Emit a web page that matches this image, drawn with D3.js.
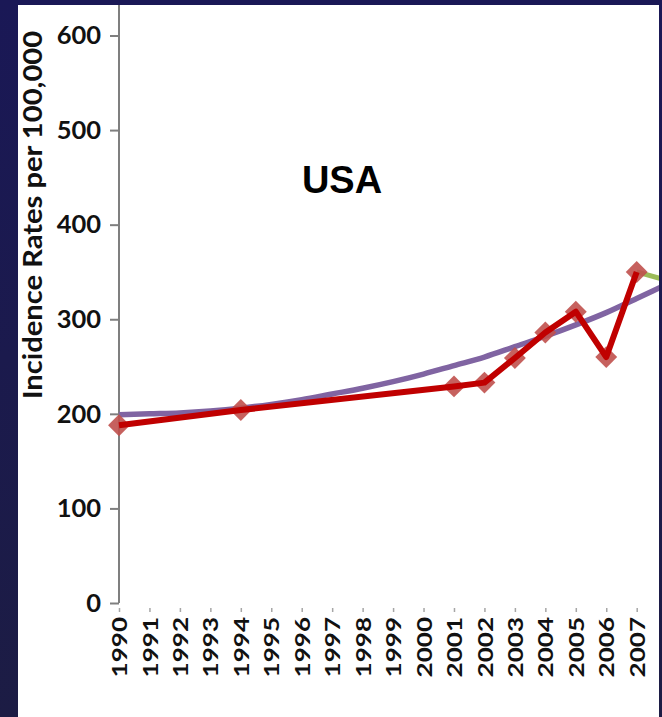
<!DOCTYPE html>
<html>
<head>
<meta charset="utf-8">
<script src="https://cdn.jsdelivr.net/npm/d3@7"></script>
<style>
  html, body { margin: 0; padding: 0; background: #1a1852; }
  svg { display: block; }
</style>
</head>
<body>
<script>
// Cancer incidence in the USA, observed rates with a fitted trend and a projection
const yearLabels = ["1990","1991","1992","1993","1994","1995","1996","1997","1998","1999",
                    "2000","2001","2002","2003","2004","2005","2006","2007","2008"];
const rateTicks = [0, 100, 200, 300, 400, 500, 600];

const observedYears = [1990, 1994, 2001, 2002, 2003, 2004, 2005, 2006, 2007];
const observedRates = [188, 204, 229, 233, 259, 286, 308, 260, 350];

const trendYears = [1990,1991,1992,1993,1994,1995,1996,1997,1998,1999,
                    2000,2001,2002,2003,2004,2005,2006,2007,2008];
const trendRates = [199, 200, 201, 203, 206, 210, 215, 221, 227, 234,
                    242, 251, 260, 271, 282, 294, 307, 322, 337];

const projectionYears = [2007, 2008];
const projectionRates = [350, 341];

const W = 662, H = 717;
const panel = { x: 18, y: 5, w: 641, h: 712 };

const svg = d3.select("body").append("svg")
  .attr("width", W).attr("height", H);

// dark slide background with a faint vertical gradient
const defs = svg.append("defs");
const grad = defs.append("linearGradient").attr("id", "bg").attr("x1", 0).attr("y1", 0).attr("x2", 0).attr("y2", 1);
grad.append("stop").attr("offset", "0%").attr("stop-color", "#1a1856");
grad.append("stop").attr("offset", "100%").attr("stop-color", "#1c1c44");
svg.append("rect").attr("width", W).attr("height", H).attr("fill", "url(#bg)");

// white chart panel
svg.append("rect")
  .attr("x", panel.x).attr("y", panel.y)
  .attr("width", panel.w).attr("height", panel.h)
  .attr("fill", "#ffffff");

defs.append("clipPath").attr("id", "plotClip")
  .append("rect")
  .attr("x", panel.x).attr("y", panel.y)
  .attr("width", panel.w).attr("height", panel.h);

const x = d3.scaleLinear().domain([1990, 2007]).range([119, 636.7]);
const y = d3.scaleLinear().domain([0, 600]).range([603, 35.5]);

const font = "Lato, 'Open Sans', sans-serif";

// y axis
const yAxis = svg.append("g")
  .attr("transform", `translate(${x(1990)},0)`)
  .call(d3.axisLeft(y).tickValues(rateTicks).tickSize(9).tickPadding(9).tickFormat(d3.format("d")));
yAxis.select(".domain").remove();
yAxis.append("line")
  .attr("x1", 0).attr("x2", 0).attr("y1", panel.y).attr("y2", y(0))
  .attr("stroke", "#7f7f7f").attr("stroke-width", 2);
yAxis.selectAll(".tick line").attr("stroke", "#7f7f7f").attr("stroke-width", 2);
yAxis.selectAll(".tick text")
  .attr("fill", "#111").style("font-family", font).style("font-weight", 700).style("font-size", "25.5px");

// x axis
const xAxis = svg.append("g")
  .attr("clip-path", "url(#plotClip)")
  .attr("transform", `translate(0,${y(0)})`)
  .call(d3.axisBottom(x).tickValues(trendYears).tickSize(9).tickPadding(12).tickFormat((d, i) => yearLabels[i]));
xAxis.select(".domain").remove();
xAxis.append("line")
  .attr("x1", x(1990)).attr("x2", panel.x + panel.w).attr("y1", 0).attr("y2", 0)
  .attr("stroke", "#a6a6a6").attr("stroke-width", 1.5);
xAxis.selectAll(".tick line").attr("stroke", "#a6a6a6").attr("stroke-width", 1.5);
xAxis.selectAll(".tick text")
  .attr("fill", "#111")
  .attr("text-anchor", "end")
  .attr("dy", "0.36em")
  .attr("transform", "translate(0,14) rotate(-90) scale(1.24,1)")
  .attr("x", 0).attr("y", 0)
  .style("font-family", font).style("font-weight", 700).style("font-size", "21px");

// axis title
svg.append("text")
  .attr("transform", `translate(42,${(28 + 402) / 2}) rotate(-90) scale(1.1,1)`)
  .attr("text-anchor", "middle")
  .attr("fill", "#111")
  .style("font-family", font).style("font-weight", 700).style("font-size", "26.5px")
  .text("Incidence Rates per 100,000");

// country label
svg.append("text")
  .attr("x", 342).attr("y", 193)
  .attr("text-anchor", "middle")
  .attr("fill", "#000")
  .style("font-family", "'Liberation Sans', Arial, sans-serif").style("font-weight", 700).style("font-size", "38px")
  .text("USA");

const plot = svg.append("g").attr("clip-path", "url(#plotClip)");

// fitted trend
plot.append("path")
  .datum(trendYears.map((yr, i) => [yr, trendRates[i]]))
  .attr("fill", "none").attr("stroke", "#8064a2").attr("stroke-width", 5.5)
  .attr("d", d3.line().x(d => x(d[0])).y(d => y(d[1])).curve(d3.curveMonotoneX));

// projection beyond the last observation
plot.append("path")
  .datum(projectionYears.map((yr, i) => [yr, projectionRates[i]]))
  .attr("fill", "none").attr("stroke", "#9bbb59").attr("stroke-width", 5)
  .attr("d", d3.line().x(d => x(d[0])).y(d => y(d[1])));

const observed = observedYears.map((yr, i) => [yr, observedRates[i]]);

// observation markers
plot.selectAll(".marker").data(observed).enter().append("path")
  .attr("class", "marker")
  .attr("d", d3.symbol().type(d3.symbolSquare).size(240))
  .attr("transform", d => `translate(${x(d[0])},${y(d[1])}) rotate(45)`)
  .attr("fill", "#c0504d").attr("fill-opacity", 0.9);

// observed rates
plot.append("path")
  .datum(observed)
  .attr("fill", "none").attr("stroke", "#c00000").attr("stroke-width", 6)
  .attr("stroke-linejoin", "round")
  .attr("d", d3.line().x(d => x(d[0])).y(d => y(d[1])));
</script>
</body>
</html>
